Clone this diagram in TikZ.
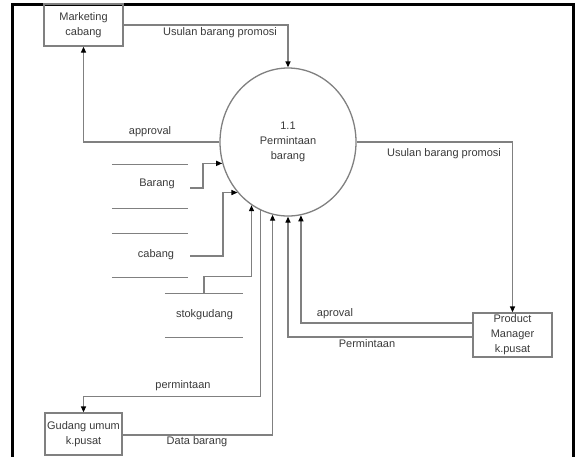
\documentclass[tikz,border=0pt]{standalone}
\usepackage{fontspec}
\setmainfont{Liberation Sans}
\usetikzlibrary{arrows.meta,shapes.geometric}
\definecolor{flow}{HTML}{808080}
\definecolor{ink}{HTML}{3A3A3A}
\begin{document}
\begin{tikzpicture}[x=1pt,y=-1pt,
  every node/.style={font=\fontsize{11}{15}\selectfont, text=ink},
  entity/.style={draw=flow, line width=1.3pt, rectangle, inner sep=0pt, align=center, minimum width=79pt, minimum height=42pt},
  process/.style={draw=flow, line width=1.3pt, ellipse, inner sep=0pt, align=center, minimum width=136pt, minimum height=148pt},
  storeslot/.style={rectangle, inner sep=0pt, minimum height=43pt},
  flowline/.style={draw=flow, line width=1.3pt},
  tip/.style={-{Triangle[length=6pt,width=5pt,color=black]}},
  lbl/.style={inner sep=0pt}]
\useasboundingbox (0,0) rectangle (577,456);

% outer frame (open at the bottom)
\draw[line width=3pt, line cap=rect] (12.5,457) -- (12.5,4) -- (573.5,4) -- (573.5,457);

% external entities
\node[entity] (mkt) at (83.5,25) {Marketing\\cabang};
\node[entity, minimum height=44pt] (pm) at (512.5,335) {Product\\Manager\\k.pusat};
\node[entity, minimum width=77pt] (gud) at (83.5,434) {Gudang umum\\k.pusat};

% process
\node[process] (proc) at (288,142) {1.1\\Permintaan\\barang};

% data stores
\node[storeslot, minimum width=76pt] (sB) at (150,186.5) {};
\node[storeslot, minimum width=76pt] (sC) at (150,255.5) {};
\node[storeslot, minimum width=78pt] (sS) at (204,315.5) {};
\foreach \s in {sB,sC,sS}
  \draw[flowline] (\s.north west) -- (\s.north east) (\s.south west) -- (\s.south east);
\node[lbl] (tB) at (157,184) {Barang};
\node[lbl] (tC) at (156,255) {cabang};
\node[lbl] (tS) at (204.5,315) {stokgudang};
\coordinate (cB) at (190,188);
\coordinate (cC) at (190,256);

% flows between entities and process
\draw[flowline, tip] (mkt.east) -| (proc.north);
\draw[flowline, tip] (proc.west) -| (mkt.south);
\draw[flowline, tip] (proc.east) -| (pm.north);
\draw[flowline, tip] ([yshift=12pt]pm.west) -| (proc.-80);
\draw[flowline, tip] ([yshift=-2pt]pm.west) -| (proc.south);
\draw[flowline, tip] (proc.-112) |- ([yshift=16pt]gud.north) -- (gud.north);
\draw[flowline, tip] ([yshift=-1pt]gud.east) -| (proc.-102);

% flows from data stores
\draw[flowline, tip] (cB) -- ++(13,0) |- (proc.-162);
\draw[flowline, tip] (cC) -- ++(33,0) |- (proc.-135);
\draw[flowline, tip] (sS.north) -- ++(0,-17) -| (proc.-120);

% flow labels
\node[lbl] (l1) at (220,33) {Usulan barang promosi};
\node[lbl] (l2) at (150,132) {approval};
\node[lbl] (l3) at (444,154) {Usulan barang promosi};
\node[lbl] (l4) at (335,314) {aproval};
\node[lbl] (l5) at (367,344) {Permintaan};
\node[lbl] (l6) at (183,386) {permintaan};
\node[lbl] (l7) at (197,442) {Data barang};
\end{tikzpicture}
\end{document}
